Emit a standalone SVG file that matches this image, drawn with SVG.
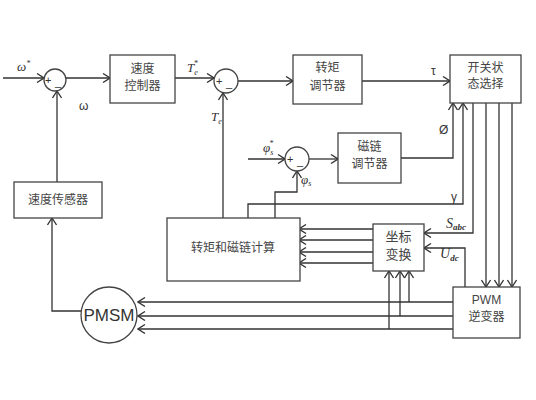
<svg xmlns="http://www.w3.org/2000/svg" width="536" height="400" viewBox="0 0 536 400">
<defs>
<marker id="arr" viewBox="0 0 10 10" refX="9" refY="5" markerWidth="10" markerHeight="10" markerUnits="userSpaceOnUse" orient="auto">
<path d="M2,0.5 L9,5 L2,9.5" fill="none" stroke="#333" stroke-width="1.3"/>
</marker>
</defs>
<style>
.box{fill:#fff;stroke:#444;stroke-width:1.3}
.ln{fill:none;stroke:#333;stroke-width:1.3}
.a{marker-end:url(#arr)}
.cn{font-family:"Noto Sans CJK SC","Liberation Sans",sans-serif;font-size:12px;fill:#444;text-anchor:middle}
.m{font-family:"Liberation Serif","DejaVu Serif",serif;font-size:13px;fill:#333;font-style:italic}
.s{font-family:"Liberation Sans",sans-serif;font-size:12px;fill:#333}
.sg{font-family:"Liberation Sans",sans-serif;font-size:11px;fill:#333}
</style>
<rect width="536" height="400" fill="#fff"/>

<g id="connectors">
<path class="ln a" d="M3,78 L44,78"/>
<path class="ln a" d="M66,78 L110,78"/>
<path class="ln a" d="M57,182 L57,91"/>
<path class="ln a" d="M175,78 L214,78"/>
<path class="ln a" d="M223,218 L223,93"/>
<path class="ln a" d="M238,81 L293,81"/>
<path class="ln a" d="M362,81 L450,81"/>
<path class="ln a" d="M248,159 L285,159"/>
<path class="ln a" d="M309,159 L338,159"/>
<path class="ln a" d="M275,218 L275,192 L297,192 L297,171"/>
<path class="ln a" d="M401,158 L453,158 L453,103"/>
<path class="ln a" d="M248,218 L248,204 L463,204 L463,103"/>
<path class="ln a" d="M473,103 L473,233 L424,233"/>
<path class="ln a" d="M465,287 L465,248 L424,248"/>
<path class="ln a" d="M486,103 L486,287"/>
<path class="ln a" d="M499,103 L499,287"/>
<path class="ln a" d="M512,103 L512,287"/>
<path class="ln a" d="M373,229 L299,229"/>
<path class="ln a" d="M373,240 L299,240"/>
<path class="ln a" d="M373,252 L299,252"/>
<path class="ln a" d="M373,263 L299,263"/>
<path class="ln a" d="M453,302 L138,302"/>
<path class="ln a" d="M453,316 L138,316"/>
<path class="ln a" d="M453,329 L138,329"/>
<path class="ln a" d="M389,329 L389,271"/>
<path class="ln a" d="M400,316 L400,271"/>
<path class="ln a" d="M409,302 L409,271"/>
<path class="ln a" d="M81,311 L52,311 L52,218"/>
</g>

<g id="sum1">
<circle cx="55" cy="80" r="11" class="box"/>
<text x="45" y="84" class="sg">+</text>
<text x="55" y="86" class="sg">_</text>
</g>
<g id="speed-ctrl">
<rect x="110" y="55" width="65" height="48" class="box"/>
<text x="142.5" y="73" class="cn">速度</text>
<text x="142.5" y="90" class="cn">控制器</text>
</g>
<g id="sum2">
<circle cx="226" cy="81" r="12" class="box"/>
<text x="216" y="85" class="sg">+</text>
<text x="226" y="87" class="sg">_</text>
</g>
<g id="torque-reg">
<rect x="293" y="55" width="69" height="49" class="box"/>
<text x="327.5" y="72" class="cn">转矩</text>
<text x="327.5" y="90" class="cn">调节器</text>
</g>
<g id="switch">
<rect x="450" y="55" width="71" height="48" class="box"/>
<text x="485.5" y="72" class="cn">开关状</text>
<text x="485.5" y="88" class="cn">态选择</text>
</g>
<g id="sum3">
<circle cx="297" cy="159" r="12" class="box"/>
<text x="287" y="163" class="sg">+</text>
<text x="297" y="165" class="sg">_</text>
</g>
<g id="flux-reg">
<rect x="338" y="133" width="63" height="50" class="box"/>
<text x="369.5" y="151" class="cn">磁链</text>
<text x="369.5" y="168" class="cn">调节器</text>
</g>
<g id="speed-sensor">
<rect x="14" y="182" width="88" height="36" class="box"/>
<text x="58" y="204" class="cn">速度传感器</text>
</g>
<g id="calc">
<rect x="167" y="218" width="133" height="63" class="box"/>
<text x="233" y="252" class="cn">转矩和磁链计算</text>
</g>
<g id="coord">
<rect x="373" y="224" width="51" height="47" class="box"/>
<text x="398.5" y="241" class="cn" style="font-size:13px">坐标</text>
<text x="398.5" y="259" class="cn" style="font-size:13px">变换</text>
</g>
<g id="pwm">
<rect x="453" y="287" width="67" height="51" class="box"/>
<text x="486.5" y="304" class="cn" style="font-family:'Liberation Sans',sans-serif">PWM</text>
<text x="486.5" y="321" class="cn">逆变器</text>
</g>
<g id="pmsm">
<circle cx="109" cy="315" r="28" class="box"/>
<text x="109" y="321" class="cn" style="font-family:'Liberation Sans',sans-serif;font-size:17px;fill:#333">PMSM</text>
</g>

<g id="labels">
<text x="17" y="71" class="m">ω<tspan font-size="8" dy="-5">*</tspan></text>
<text x="79" y="110" class="s">ω</text>
<text x="187" y="72" class="m">T<tspan font-size="8" dy="3">e</tspan><tspan font-size="8" dx="-4" dy="-9">*</tspan></text>
<text x="211" y="121" class="m">T<tspan font-size="8" dy="3">e</tspan></text>
<text x="431" y="75" class="s">τ</text>
<text x="439" y="134" class="s">Ø</text>
<text x="263" y="152" class="m">φ<tspan font-size="8" dy="3">s</tspan><tspan font-size="8" dx="-4" dy="-9">*</tspan></text>
<text x="301" y="184" class="m">φ<tspan font-size="8" dy="2">s</tspan></text>
<text x="451" y="201" class="s">γ</text>
<text x="446" y="228" class="m" style="font-size:14px">S<tspan font-size="9" dy="2" font-weight="bold">abc</tspan></text>
<text x="440" y="258" class="m" style="font-size:14px">U<tspan font-size="9" dy="3" font-weight="bold">dc</tspan></text>
</g>
</svg>
